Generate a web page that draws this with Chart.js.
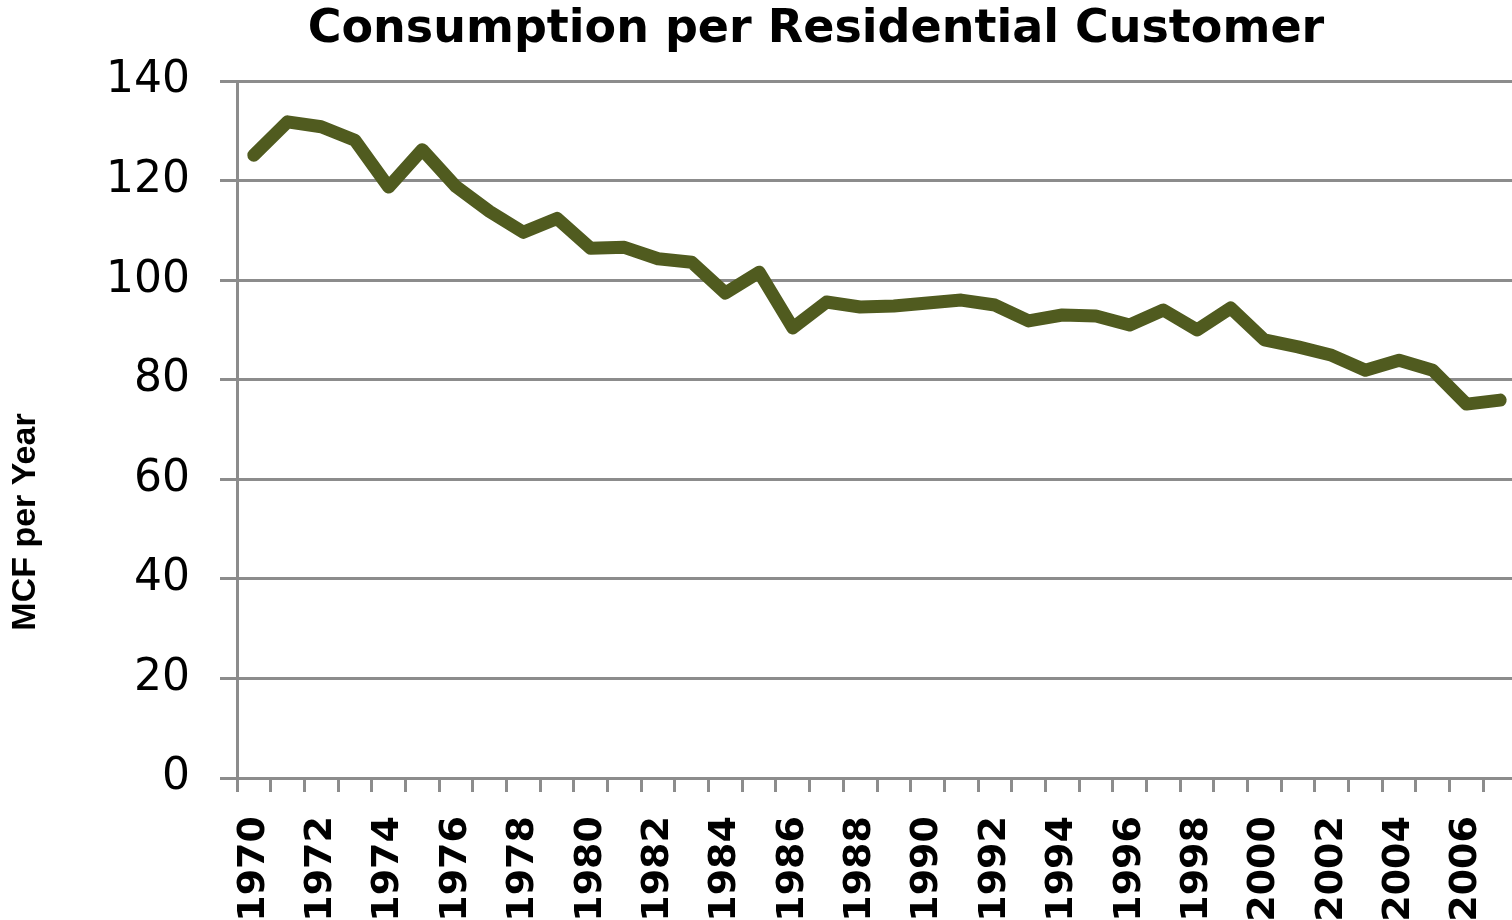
<!DOCTYPE html>
<html>
<head>
<meta charset="utf-8">
<script src="https://cdn.jsdelivr.net/npm/chart.js@4/dist/chart.umd.min.js"></script>
<style>
  html, body { margin: 0; padding: 0; background: #fff; overflow: hidden; }
  canvas { display: block; }
</style>
</head>
<body>
<canvas id="consumptionChart" width="1518" height="920"></canvas>
<script>
const years = [];
for (let y = 1970; y <= 2007; y++) years.push(String(y));

const mcfPerCustomer = [
  125.1, 131.8, 130.8, 128.1, 118.7, 126.2, 118.8, 113.8, 109.6, 112.4,
  106.4, 106.6, 104.3, 103.6, 97.4, 101.6, 90.4, 95.6, 94.6, 94.8,
  95.4, 96.0, 95.0, 91.8, 93.0, 92.8, 91.0, 94.0, 90.0, 94.4,
  88.0, 86.6, 84.9, 81.9, 83.9, 81.9, 75.1, 75.9
];

const yTicks = [0, 20, 40, 60, 80, 100, 120, 140];

const chartTitle = "Consumption per Residential Customer";
const yTitle = "MCF per Year";

const gridGray = "#8c8c8c";

// title and y-axis title drawn by hand to match their offset positions
const textPlugin = {
  id: "textPlugin",
  afterDraw(chart) {
    const ctx = chart.ctx;
    ctx.save();
    ctx.fillStyle = "#000";
    ctx.textAlign = "center";
    ctx.textBaseline = "middle";
    ctx.font = "bold 46px 'DejaVu Sans'";
    ctx.fillText(chartTitle, 816, 30);

    ctx.translate(26, 522);
    ctx.rotate(-Math.PI / 2);
    ctx.font = "bold 34px 'Liberation Sans'";
    ctx.fillText(yTitle, 0, 0);
    ctx.restore();
  }
};

const ctx = document.getElementById("consumptionChart").getContext("2d");
const consumptionChart = new Chart(ctx, {
  type: "line",
  data: {
    labels: years,
    datasets: [{
      label: yTitle,
      data: mcfPerCustomer,
      borderColor: "#505b1f",
      borderWidth: 13,
      pointRadius: 0,
      tension: 0,
      borderJoinStyle: "round",
      borderCapStyle: "round",
      fill: false
    }]
  },
  options: {
    responsive: false,
    animation: false,
    layout: { padding: { top: 81, right: 1, bottom: 0, left: 0 } },
    plugins: {
      legend: { display: false },
      title: { display: false },
      tooltip: { enabled: false }
    },
    scales: {
      x: {
        type: "category",
        offset: true,
        grid: {
          offset: true,
          drawOnChartArea: false,
          drawTicks: true,
          tickLength: 14,
          color: gridGray,
          lineWidth: 3
        },
        border: { color: gridGray, width: 3 },
        ticks: {
          autoSkip: false,
          maxRotation: 90,
          minRotation: 90,
          padding: 24,
          color: "#000",
          font: { family: "'DejaVu Sans'", size: 38, weight: "bold" },
          callback: function (value, index) {
            return index % 2 === 0 ? this.getLabelForValue(value) : "";
          }
        },
        afterFit(scale) {
          scale.height = 142;
          scale.paddingLeft = 0;
          scale.paddingRight = 0;
        }
      },
      y: {
        min: 0,
        max: 140,
        afterBuildTicks(scale) { scale.ticks = yTicks.map(v => ({ value: v })); },
        grid: {
          color: gridGray,
          lineWidth: 3,
          drawTicks: true,
          tickLength: 17
        },
        border: { color: gridGray, width: 3 },
        ticks: {
          padding: 30,
          color: "#000",
          font: { family: "'DejaVu Sans'", size: 44 }
        },
        afterFit(scale) { scale.width = 237; }
      }
    }
  },
  plugins: [textPlugin]
});
</script>
</body>
</html>
